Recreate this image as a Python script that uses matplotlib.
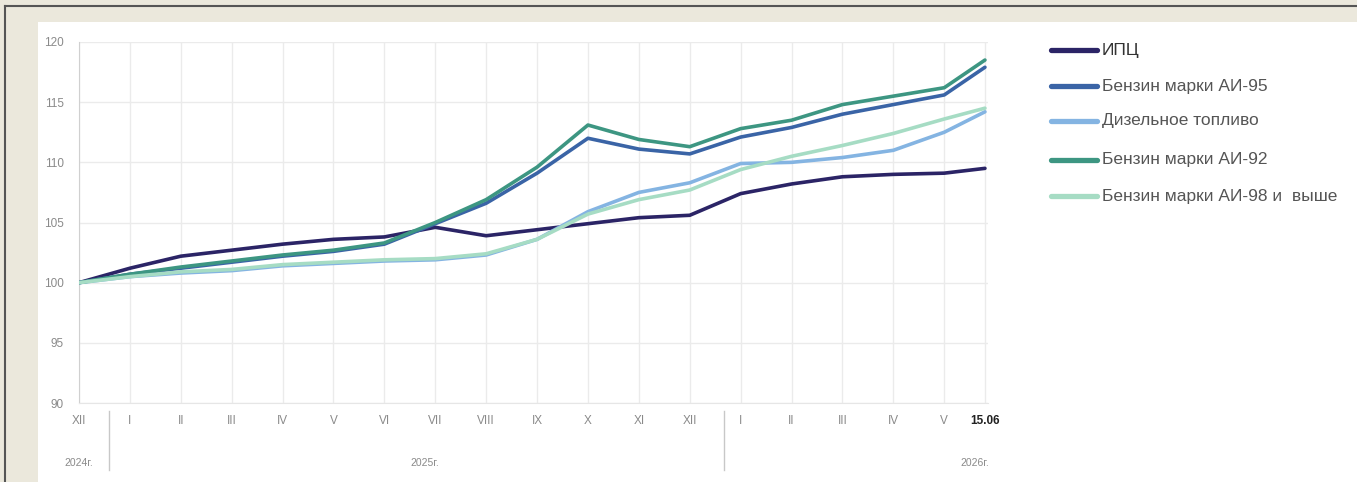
import matplotlib.pyplot as plt
from matplotlib.patches import Rectangle
from matplotlib.lines import Line2D
import numpy as np

plt.rcParams['font.family'] = ['Liberation Sans', 'DejaVu Sans']

months = ['XII', 'I', 'II', 'III', 'IV', 'V', 'VI', 'VII', 'VIII', 'IX', 'X', 'XI', 'XII',
          'I', 'II', 'III', 'IV', 'V', '15.06']
# last point is mid-month, so it sits closer to V
x_pos = list(range(18)) + [17.8]

cpi = [100.0, 101.2, 102.2, 102.7, 103.2, 103.6, 103.8, 104.6, 103.9, 104.4, 104.9,
       105.4, 105.6, 107.4, 108.2, 108.8, 109.0, 109.1, 109.5]
ai95 = [100.0, 100.7, 101.2, 101.7, 102.2, 102.6, 103.2, 104.9, 106.6, 109.1, 112.0,
        111.1, 110.7, 112.1, 112.9, 114.0, 114.8, 115.6, 117.9]
diesel = [100.0, 100.5, 100.8, 101.0, 101.4, 101.6, 101.8, 101.9, 102.3, 103.6, 105.9,
          107.5, 108.3, 109.9, 110.0, 110.4, 111.0, 112.5, 114.2]
ai92 = [100.0, 100.7, 101.3, 101.8, 102.3, 102.7, 103.3, 105.0, 106.9, 109.6, 113.1,
        111.9, 111.3, 112.8, 113.5, 114.8, 115.5, 116.2, 118.5]
ai98 = [100.0, 100.5, 100.9, 101.1, 101.5, 101.7, 101.9, 102.0, 102.4, 103.6, 105.7,
        106.9, 107.7, 109.4, 110.5, 111.4, 112.4, 113.6, 114.5]

series = [
    ('ИПЦ', cpi, '#2b2466'),
    ('Бензин марки АИ-95', ai95, '#3a64a6'),
    ('Дизельное топливо', diesel, '#84b4e2'),
    ('Бензин марки АИ-92', ai92, '#3d9682'),
    ('Бензин марки АИ-98 и  выше', ai98, '#a6dcc4'),
]

W, H = 1357, 482
fig = plt.figure(figsize=(W / 100, H / 100), dpi=100)
fig.patch.set_facecolor('#ebe8dc')

# frame and white panel
fig.add_artist(Line2D([5 / W, 5 / W], [0, 1 - 6 / H], color='#555555', lw=1.5))
fig.add_artist(Line2D([5 / W, 1], [1 - 6 / H, 1 - 6 / H], color='#555555', lw=1.5))
fig.add_artist(Rectangle((38 / W, 0), 1 - 38 / W, 1 - 22 / H,
                         facecolor='white', edgecolor='none', zorder=0))

ax = fig.add_axes([79 / W, 1 - 403 / H, 909 / W, 361 / H])
ax.set_facecolor('none')

draw_order = [4, 2, 3, 1, 0]
for i in draw_order:
    name, vals, col = series[i]
    ax.plot(x_pos, vals, color=col, lw=2.6, solid_capstyle='round', zorder=3 + i)

ax.set_xlim(0, 17.86)
ax.set_ylim(90, 120)
ax.set_yticks(range(90, 121, 5))
ax.set_xticks(x_pos)
ax.set_xticklabels(months)
for lab in ax.get_xticklabels():
    lab.set_color('#8a8a8a')
ax.get_xticklabels()[-1].set_color('#222222')
ax.get_xticklabels()[-1].set_fontweight('bold')
ax.tick_params(axis='x', length=0, pad=9, labelsize=8.5)
ax.tick_params(axis='y', length=0, pad=11, labelsize=8.5, labelcolor='#8a8a8a')
ax.grid(True, color='#ebebeb', lw=1)
for s in ['top', 'right']:
    ax.spines[s].set_visible(False)
ax.spines['left'].set_color('#d0d0d0')
ax.spines['bottom'].set_color('#e6e6e6')

# year separators and labels
for xs in [0.58, 12.67]:
    ax.plot([xs, xs], [89.3, 84.4], color='#c8c8c8', lw=1, clip_on=False)
ax.text(0, 85.0, '2024г.', ha='center', va='center', fontsize=7.5, color='#8a8a8a')
ax.text(6.8, 85.0, '2025г.', ha='center', va='center', fontsize=7.5, color='#8a8a8a')
ax.text(17.6, 85.0, '2026г.', ha='center', va='center', fontsize=7.5, color='#8a8a8a')

# legend drawn by hand to keep the uneven row spacing
row_y = [50, 86, 121, 160, 196]
for (name, _, col), yy in zip(series, row_y):
    fig.add_artist(Line2D([1051 / W, 1097 / W], [1 - yy / H, 1 - yy / H],
                          color=col, lw=3.8, solid_capstyle='round'))
    fig.text(1102 / W, 1 - yy / H, name, ha='left', va='center', fontsize=12.5,
             color='#333333' if name == 'ИПЦ' else '#555555')

fig.savefig('out.png', dpi=100, facecolor=fig.get_facecolor())
